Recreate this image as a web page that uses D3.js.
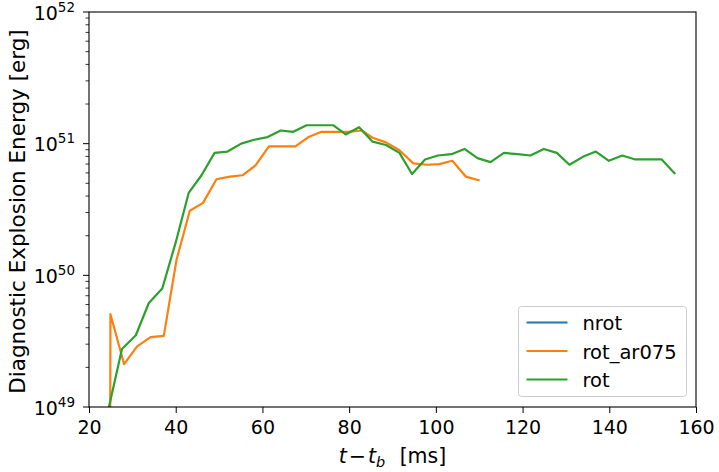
<!DOCTYPE html>
<html>
<head>
<meta charset="utf-8">
<script src="https://cdn.jsdelivr.net/npm/d3@7"></script>
<style>
  body { margin: 0; background: #fff; }
  svg { font-family: "DejaVu Sans", sans-serif; }
</style>
</head>
<body>
<svg id="chart"></svg>
<script>
// series data: time after bounce [ms] and diagnostic explosion energy [erg]
const seriesNames = ["nrot", "rot_ar075", "rot"];
const seriesColors = ["#1f77b4", "#ff7f0e", "#2ca02c"];

const nrotT = [];
const nrotE = [];

const rotAr075T = [24.9, 24.95, 28.1, 31.1, 34.2, 37.25, 40.2, 43.25, 46.3, 49.4, 52.5, 55.4, 58.4,
  61.5, 64.5, 67.6, 70.6, 73.65, 76.7, 79.7, 82.9, 85.4, 88.5, 91.6, 94.8, 97.9, 100.8, 103.8, 106.9, 110.1];
const rotAr075LogE = [49.0, 49.705, 49.325, 49.46, 49.53, 49.54, 50.12, 50.49, 50.55, 50.73, 50.75, 50.76, 50.835,
  50.98, 50.98, 50.98, 51.05, 51.09, 51.09, 51.09, 51.10, 51.045, 51.01, 50.95, 50.85, 50.84, 50.845, 50.87, 50.75, 50.72];

const rotT = [24.6, 27.6, 30.8, 33.8, 36.9, 40.0, 43.0, 45.95, 48.96, 51.96, 55.1, 58.1, 61.2, 64.2, 67.1,
  70.2, 73.2, 76.3, 79.2, 82.3, 85.4, 88.5, 91.6, 94.5, 97.5, 100.5, 103.6, 106.6, 109.6, 112.6, 115.7,
  118.8, 121.8, 124.9, 127.9, 130.8, 133.9, 136.9, 139.9, 143.0, 146.0, 149.1, 152.1, 155.2];
const rotLogE = [49.0, 49.44, 49.545, 49.79, 49.90, 50.25, 50.627, 50.76, 50.93, 50.94, 51.0, 51.03, 51.05, 51.10, 51.09,
  51.14, 51.14, 51.14, 51.07, 51.125, 51.015, 50.99, 50.93, 50.77, 50.88, 50.91, 50.92, 50.96, 50.89, 50.86, 50.93,
  50.92, 50.91, 50.96, 50.93, 50.84, 50.90, 50.94, 50.87, 50.91, 50.88, 50.88, 50.88, 50.77];

const xTicks = [20, 40, 60, 80, 100, 120, 140, 160];
const yDecades = [49, 50, 51, 52];

const W = 719, H = 472;
const margin = { left: 89, right: 23, top: 12, bottom: 65 };

const svg = d3.select("#chart").attr("width", W).attr("height", H);

const x = d3.scaleLinear().domain([20, 160]).range([margin.left, W - margin.right]);
const y = d3.scaleLog().domain([1e49, 1e52]).range([H - margin.bottom, margin.top]);

svg.append("defs").append("clipPath").attr("id", "plot-clip")
  .append("rect")
  .attr("x", x(20)).attr("y", y(1e52))
  .attr("width", x(160) - x(20)).attr("height", y(1e49) - y(1e52));

// lines
const series = [
  { t: nrotT, e: nrotE.map(v => Math.pow(10, v)) },
  { t: rotAr075T, e: rotAr075LogE.map(v => Math.pow(10, v)) },
  { t: rotT, e: rotLogE.map(v => Math.pow(10, v)) }
];

const line = d3.line().x(d => x(d[0])).y(d => y(d[1]));
const linesG = svg.append("g").attr("clip-path", "url(#plot-clip)");
series.forEach((s, i) => {
  if (!s.t.length) return;
  linesG.append("path")
    .datum(s.t.map((t, j) => [t, s.e[j]]))
    .attr("d", line)
    .attr("fill", "none")
    .attr("stroke", seriesColors[i])
    .attr("stroke-width", 2.2)
    .attr("stroke-linejoin", "round");
});

// x axis
const xAxis = d3.axisBottom(x).tickValues(xTicks).tickSize(6).tickPadding(8).tickFormat(d3.format("d"));
const xg = svg.append("g").attr("transform", `translate(0,${y(1e49)})`).call(xAxis);
xg.select(".domain").remove();
xg.selectAll("line").attr("stroke", "#000").attr("stroke-width", 1);
xg.selectAll("text").attr("font-size", 19).attr("font-family", "DejaVu Sans").attr("fill", "#000");

// y axis (major + minor ticks)
const minor = [];
for (let d = 49; d < 52; d++) for (let k = 2; k <= 9; k++) minor.push(k * Math.pow(10, d));
const yg = svg.append("g").attr("transform", `translate(${x(20)},0)`);
yg.selectAll(".minor").data(minor).enter().append("line")
  .attr("x1", 0).attr("x2", -3.5)
  .attr("y1", d => y(d)).attr("y2", d => y(d))
  .attr("stroke", "#000").attr("stroke-width", 0.8);
yg.selectAll(".major").data(yDecades).enter().append("line")
  .attr("x1", 0).attr("x2", -6)
  .attr("y1", d => y(Math.pow(10, d))).attr("y2", d => y(Math.pow(10, d)))
  .attr("stroke", "#000").attr("stroke-width", 1);
const yl = yg.selectAll(".lab").data(yDecades).enter().append("text")
  .attr("x", -14).attr("y", d => y(Math.pow(10, d)) + 7.5)
  .attr("text-anchor", "end").attr("font-size", 19).attr("fill", "#000");
yl.append("tspan").text("10");
yl.append("tspan").attr("dy", -8).attr("font-size", 13.5).text(d => d);

// frame
svg.append("rect")
  .attr("x", x(20)).attr("y", y(1e52))
  .attr("width", x(160) - x(20)).attr("height", y(1e49) - y(1e52))
  .attr("fill", "none").attr("stroke", "#000").attr("stroke-width", 1.1);

// axis labels
const xl = svg.append("text")
  .attr("x", (x(20) + x(160)) / 2).attr("y", 462.5)
  .attr("text-anchor", "middle").attr("font-size", 20.5).attr("fill", "#000");
xl.append("tspan").attr("font-style", "italic").text("t");
xl.append("tspan").text("\u200a\u2212\u200a");
xl.append("tspan").attr("font-style", "italic").text("t");
xl.append("tspan").attr("font-style", "italic").attr("font-size", 14.5).attr("dy", 4).text("b");
xl.append("tspan").attr("dy", -4).text("\u2002\u2009[ms]");

svg.append("text")
  .attr("transform", `translate(25,${(y(1e49) + y(1e52)) / 2 + 2}) rotate(-90)`)
  .attr("text-anchor", "middle").attr("font-size", 21.5).attr("fill", "#000")
  .text("Diagnostic Explosion Energy [erg]");

// legend
const lg = svg.append("g").attr("transform", "translate(518.5,306.5)");
lg.append("rect").attr("width", 168).attr("height", 90).attr("rx", 3)
  .attr("fill", "#fff").attr("fill-opacity", 0.8)
  .attr("stroke", "#ccc").attr("stroke-width", 1);
seriesNames.forEach((n, i) => {
  const yy = 16 + i * 28.5;
  lg.append("line").attr("x1", 8).attr("x2", 49).attr("y1", yy).attr("y2", yy)
    .attr("stroke", seriesColors[i]).attr("stroke-width", 2.2);
  lg.append("text").attr("x", 64).attr("y", yy + 7.5).attr("font-size", 19.5).attr("fill", "#000").text(n);
});
</script>
</body>
</html>
